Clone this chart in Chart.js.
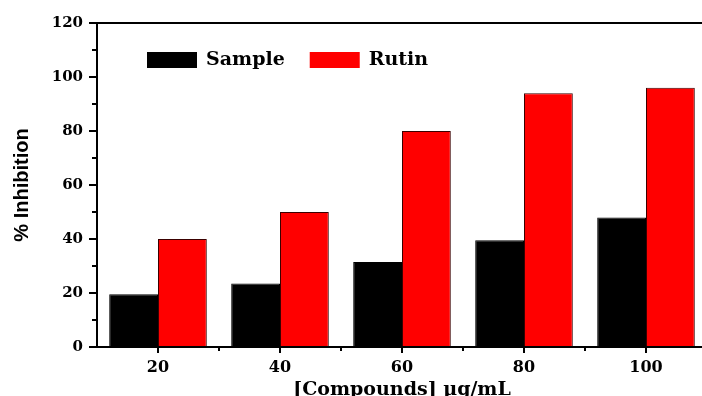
<!DOCTYPE html>
<html>
<head>
<meta charset="utf-8">
<script src="https://cdn.jsdelivr.net/npm/chart.js@4"></script>
<style>
  html, body { margin: 0; padding: 0; background: #fff; overflow: hidden; }
  #wrap { position: relative; width: 710px; height: 396px; }
</style>
</head>
<body>
<div id="wrap"><canvas id="chartInhibisi"></canvas></div>
<script>
// Data
const concentrations = ['20', '40', '60', '80', '100'];
const sampleValues = [19.5, 23.5, 31.5, 39.5, 48];
const rutinValues = [40, 50, 80, 94, 96];
const yTicks = [0, 20, 40, 60, 80, 100, 120];

const serif = '"DejaVu Serif", "Liberation Serif", serif';

// minor ticks + legend inside plot
const extras = {
  id: 'extras',
  afterDraw(chart) {
    const ctx = chart.ctx;
    const area = chart.chartArea;
    const x = chart.scales.x, y = chart.scales.y;
    ctx.save();
    ctx.strokeStyle = '#000';
    ctx.lineWidth = 2;
    ctx.beginPath();
    for (let i = 0; i < y.ticks.length - 1; i++) {
      const py = (y.getPixelForValue(y.ticks[i].value) + y.getPixelForValue(y.ticks[i + 1].value)) / 2;
      ctx.moveTo(area.left - 5, py);
      ctx.lineTo(area.left, py);
    }
    for (let i = 0; i < concentrations.length - 1; i++) {
      const px = (x.getPixelForTick(i) + x.getPixelForTick(i + 1)) / 2;
      ctx.moveTo(px, area.bottom);
      ctx.lineTo(px, area.bottom + 4);
    }
    ctx.stroke();

    // legend
    let lx = area.left + 50;
    const ly = area.top + 29;
    ctx.font = 'bold 19px ' + serif;
    ctx.textBaseline = 'middle';
    chart.data.datasets.forEach(ds => {
      ctx.fillStyle = ds.backgroundColor;
      ctx.fillRect(lx, ly, 50, 16);
      ctx.fillStyle = '#000';
      ctx.fillText(ds.label, lx + 59, ly + 8);
      lx += 59 + ctx.measureText(ds.label).width + 25;
    });
    ctx.restore();
  }
};

const ctx = document.getElementById('chartInhibisi');
new Chart(ctx, {
  type: 'bar',
  data: {
    labels: concentrations,
    datasets: [
      { label: 'Sample', data: sampleValues, backgroundColor: '#000000', borderColor: '#000000', borderWidth: 1 },
      { label: 'Rutin', data: rutinValues, backgroundColor: '#ff0000', borderColor: '#3a0000', borderWidth: 1 }
    ]
  },
  options: {
    responsive: true,
    maintainAspectRatio: false,
    animation: false,
    layout: { padding: { left: 0, top: 23, right: 3, bottom: 0 } },
    categoryPercentage: 0.8,
    barPercentage: 1.0,
    plugins: {
      legend: { display: false },
      tooltip: { enabled: false }
    },
    scales: {
      x: {
        grid: { display: true, offset: false, drawOnChartArea: false, drawTicks: true, tickLength: 6, color: '#000', lineWidth: 2 },
        border: { display: true, color: '#000', width: 2 },
        ticks: { color: '#000', font: { family: serif, size: 16, weight: 'bold' }, padding: 5, maxRotation: 0 },
        title: { display: true, text: '[Compounds] µg/mL', color: '#000', font: { family: serif, size: 19, weight: 'bold' }, padding: { top: 0, bottom: -5 } },
        afterFit(s) { s.height = 49; }
      },
      x2: {
        position: 'top',
        grid: { display: false },
        border: { display: true, color: '#000', width: 2 },
        ticks: { display: false },
        afterFit(s) { s.height = 0; }
      },
      y: {
        min: yTicks[0],
        max: yTicks[yTicks.length - 1],
        afterBuildTicks(s) { s.ticks = yTicks.map(v => ({ value: v })); },
        grid: { display: true, drawOnChartArea: false, drawTicks: true, tickLength: 8, color: '#000', lineWidth: 2 },
        border: { display: true, color: '#000', width: 2 },
        ticks: { color: '#000', font: { family: serif, size: 15, weight: 'bold' }, padding: 6 },
        title: { display: true, text: '% Inhibition', color: '#000', font: { family: '"Liberation Sans Narrow", "Liberation Sans", sans-serif', size: 20, weight: 'bold' }, padding: { top: 10, bottom: 0 } },
        afterFit(s) { s.width = 97; }
      }
    }
  },
  plugins: [extras]
});
</script>
</body>
</html>
